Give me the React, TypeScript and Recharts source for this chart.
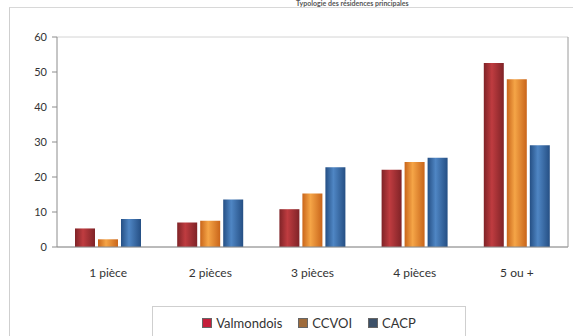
import { BarChart, Bar, XAxis, YAxis, CartesianGrid } from 'recharts'

const categories = ['1 pièce', '2 pièces', '3 pièces', '4 pièces', '5 ou +']
const valmondois = [5.3, 7.0, 10.8, 22.1, 52.6]
const ccvoi = [2.2, 7.5, 15.3, 24.3, 47.9]
const cacp = [8.0, 13.6, 22.8, 25.5, 29.1]
const yTicks = [0, 10, 20, 30, 40, 50, 60]

const series = [
  { key: 'valmondois', name: 'Valmondois', values: valmondois, dark: '#7f2327', light: '#bf3c40', swatch: '#c41e3a' },
  { key: 'ccvoi', name: 'CCVOI', values: ccvoi, dark: '#c9651a', light: '#f5a547', swatch: '#9e6b3b' },
  { key: 'cacp', name: 'CACP', values: cacp, dark: '#254f84', light: '#4f86c4', swatch: '#3c5068' },
]

const data = categories.map((name, i) => ({
  name,
  valmondois: valmondois[i],
  ccvoi: ccvoi[i],
  cacp: cacp[i],
}))

const font = 'Lato, "Open Sans", sans-serif'

export default function App() {
  return (
    <div style={{ position: 'absolute', left: 0, top: 0, width: 573, height: 336, background: '#fff', overflow: 'hidden', fontFamily: font }}>
      {/* outer frame */}
      <div style={{ position: 'absolute', left: 9, top: 7, width: 600, height: 400, borderLeft: '1px solid #cfcfcf', borderTop: '1px solid #d8d8d8' }} />
      {/* title, squeezed into the top strip */}
      <div style={{ position: 'absolute', left: 296, top: -1, fontSize: 7, fontWeight: 'bold', color: '#555', whiteSpace: 'nowrap', lineHeight: '8px' }}>
        Typologie des résidences principales
      </div>
      <BarChart
        width={573}
        height={336}
        data={data}
        margin={{ top: 37, right: 0, left: 0, bottom: 59 }}
        barCategoryGap="19%"
        barGap={3}
        style={{ position: 'absolute', left: 0, top: 0 }}
      >
        <defs>
          {series.map((s) => (
            <linearGradient key={s.key} id={`grad-${s.key}`} x1="0" y1="0" x2="1" y2="0">
              <stop offset="0%" stopColor={s.dark} />
              <stop offset="40%" stopColor={s.light} />
              <stop offset="100%" stopColor={s.dark} />
            </linearGradient>
          ))}
        </defs>
        <CartesianGrid vertical={false} stroke="#d4d4d4" />
        <XAxis
          dataKey="name"
          height={30}
          tickLine={false}
          axisLine={{ stroke: '#8c8c8c' }}
          tickMargin={15}
          tick={{ fill: '#333', fontSize: 12, fontFamily: font }}
          interval={0}
        />
        <YAxis
          yAxisId="left"
          width={57}
          domain={[0, 60]}
          ticks={yTicks}
          tickSize={5}
          tickMargin={5}
          axisLine={{ stroke: '#8c8c8c' }}
          tickLine={{ stroke: '#8c8c8c' }}
          tick={{ fill: '#333', fontSize: 11, fontFamily: font }}
        />
        <YAxis
          yAxisId="right"
          orientation="right"
          width={5}
          domain={[0, 60]}
          tick={false}
          tickLine={false}
          axisLine={{ stroke: '#9a9a9a' }}
        />
        {series.map((s) => (
          <Bar
            key={s.key}
            yAxisId="left"
            dataKey={s.key}
            name={s.name}
            fill={`url(#grad-${s.key})`}
            barSize={20}
            isAnimationActive={false}
          />
        ))}
      </BarChart>
      {/* legend */}
      <div
        style={{
          position: 'absolute',
          left: 152,
          top: 306,
          width: 314,
          height: 40,
          border: '1px solid #cfcfcf',
          boxSizing: 'border-box',
          display: 'flex',
          justifyContent: 'center',
          alignItems: 'flex-start',
          paddingTop: 8,
          gap: 16,
          fontSize: 13,
          color: '#333',
        }}
      >
        {series.map((s) => (
          <div key={s.key} style={{ display: 'flex', alignItems: 'center', gap: 4 }}>
            <span style={{ display: 'inline-block', width: 8, height: 8, background: s.swatch, border: '1px solid #666' }} />
            <span>{s.name}</span>
          </div>
        ))}
      </div>
    </div>
  )
}
